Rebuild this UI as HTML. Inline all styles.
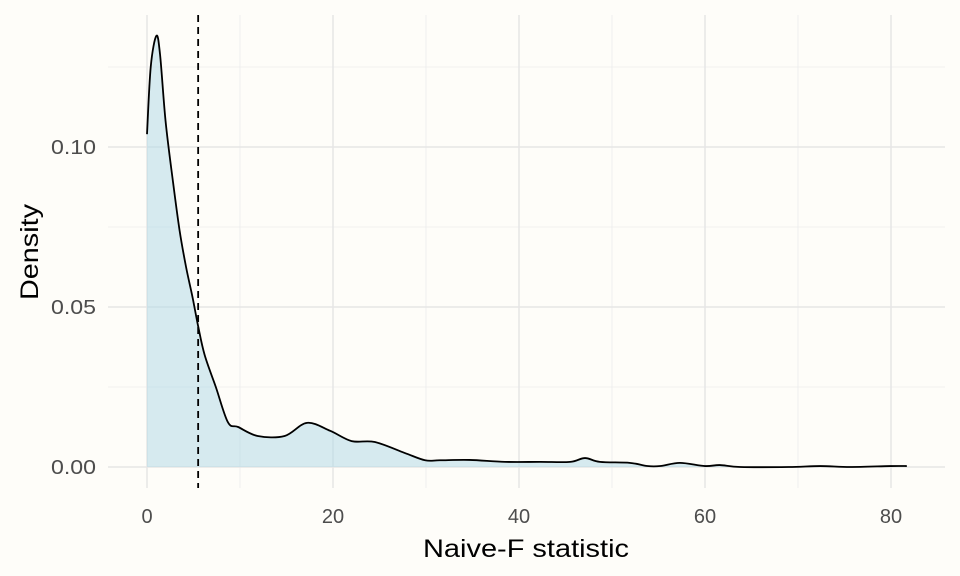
<!DOCTYPE html>
<html><head><meta charset="utf-8"><style>
body{margin:0;background:#fefdf9;}
svg{display:block;font-family:"Liberation Sans",sans-serif;}
</style></head><body>
<svg id="chart" width="960" height="576">
<rect width="960" height="576" fill="#fefdf9"/>
<g id="grid"></g>
<g id="marks"></g>
<g id="axes"></g>
<text x="526" y="557" text-anchor="middle" font-size="25" textLength="206" lengthAdjust="spacingAndGlyphs" fill="#000">Naive-F statistic</text>
<text transform="translate(38,252) rotate(-90)" text-anchor="middle" font-size="25" textLength="96" lengthAdjust="spacingAndGlyphs" fill="#000">Density</text>
</svg>
<script>
const xs=[0,0.4,1.0,1.4,2.0,2.8,3.5,4.2,4.9,5.5,6.2,7.4,8.7,9.8,11.9,14.8,17.2,19.7,22,24.5,27.7,29.9,31.5,34.7,38.5,42.3,45.5,47.1,48.7,51.9,53.8,55.2,57.3,60,61.6,63.8,69,72.4,75.6,80,81.7];
const ys=[0.104,0.125,0.1347,0.129,0.108,0.089,0.074,0.0625,0.053,0.044,0.035,0.025,0.014,0.0125,0.0097,0.0097,0.0138,0.0113,0.0081,0.0078,0.0044,0.0021,0.0021,0.0022,0.0016,0.0016,0.0016,0.0028,0.0016,0.0013,0.0003,0.0003,0.0013,0.0003,0.0006,0,0,0.0003,0,0.0003,0.0003];
const xTicks=[0,20,40,60,80];
const xMinor=[10,30,50,70];
const yTicks=[0,0.05,0.10];
const yTickLabels=["0.00","0.05","0.10"];
const yMinor=[0.025,0.075,0.125];
const vline=5.5;
const X=v=>147+v*9.3, Y=v=>467-v*3200;
const L=108,R=945,T=15,B=488;
const NS="http://www.w3.org/2000/svg";
function mk(tag,attrs,parent){const e=document.createElementNS(NS,tag);for(const k in attrs)e.setAttribute(k,attrs[k]);parent.appendChild(e);return e;}
const g=document.getElementById('grid'),m=document.getElementById('marks'),a=document.getElementById('axes');
yMinor.forEach(v=>{const e=mk('line',{x1:L,x2:R,y1:Y(v),y2:Y(v),stroke:'#ececec','stroke-width':0.8},g);

});
xMinor.forEach(v=>{const e=mk('line',{x1:X(v),x2:X(v),y1:T,y2:B,stroke:'#ececec','stroke-width':0.8},g);

});
yTicks.forEach((v,i)=>{const e=mk('line',{x1:L,x2:R,y1:Y(v),y2:Y(v),stroke:'#e6e6e6','stroke-width':1.5},g);


const t=mk('text',{x:96,y:Y(v)+7,'text-anchor':'end','font-size':20,textLength:45,lengthAdjust:'spacingAndGlyphs',fill:'#4d4d4d'},a);t.textContent=yTickLabels[i];

});
xTicks.forEach(v=>{const e=mk('line',{x1:X(v),x2:X(v),y1:T,y2:B,stroke:'#e6e6e6','stroke-width':1.5},g);


const t=mk('text',{x:X(v),y:523,'text-anchor':'middle','font-size':20,fill:'#4d4d4d'},a);t.textContent=String(v);

});
const P=xs.map((x,i)=>[X(x),Y(ys[i])]);
let d='M'+P[0][0]+','+P[0][1];
for(let i=0;i<P.length-1;i++){const p0=P[Math.max(0,i-1)],p1=P[i],p2=P[i+1],p3=P[Math.min(P.length-1,i+2)];
const c1=[p1[0]+(p2[0]-p0[0])/6,p1[1]+(p2[1]-p0[1])/6],c2=[p2[0]-(p3[0]-p1[0])/6,p2[1]-(p3[1]-p1[1])/6];
d+=` C${c1[0]},${c1[1]} ${c2[0]},${c2[1]} ${p2[0]},${p2[1]}`;}
const area=mk('path',{d:d+` L${X(xs[xs.length-1])},${Y(0)} L${X(0)},${Y(0)} Z`,fill:'#add8e6','fill-opacity':0.5},m);


const line=mk('path',{d:d,fill:'none',stroke:'#000','stroke-width':1.8,'stroke-linejoin':'round'},m);


const vl=mk('line',{x1:X(vline),x2:X(vline),y1:T,y2:B,stroke:'#000','stroke-width':1.8,'stroke-dasharray':'7,5'},m);


</script>
</body></html>
